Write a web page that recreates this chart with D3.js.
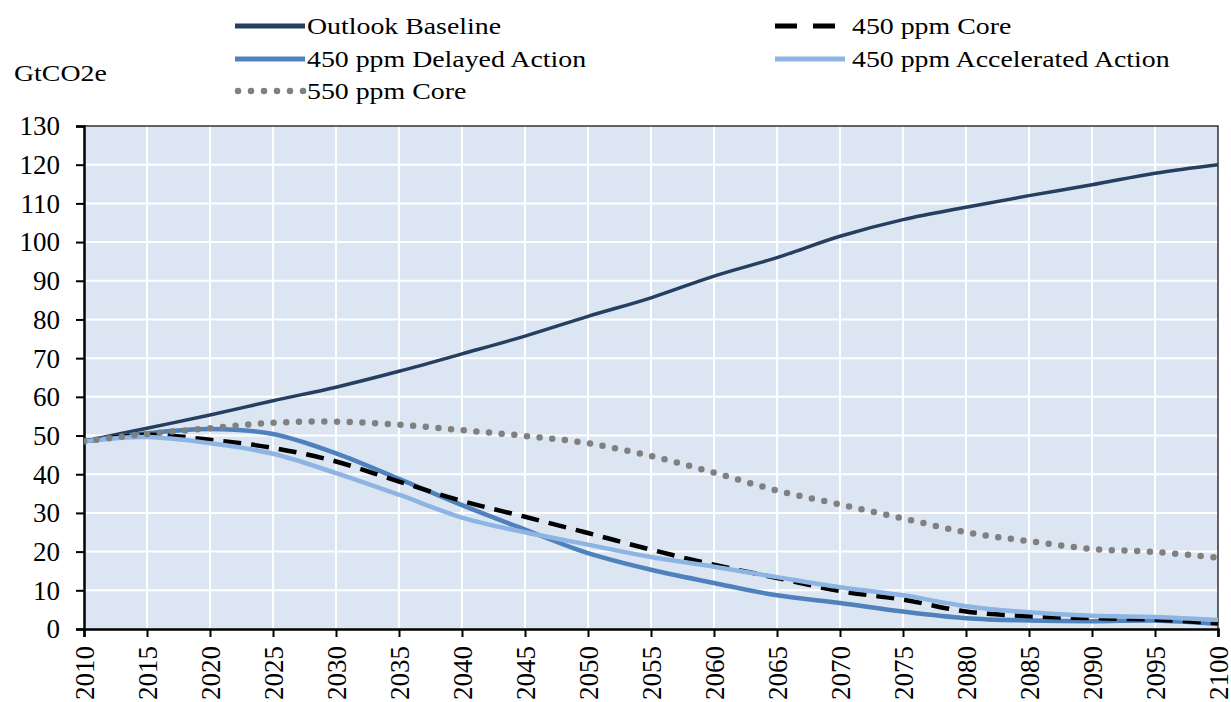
<!DOCTYPE html>
<html>
<head>
<meta charset="utf-8">
<script src="https://cdn.jsdelivr.net/npm/d3@7"></script>
<style>
  body { margin: 0; background: #fff; }
  svg text { font-family: "Liberation Serif", "Times New Roman", serif; fill: #000; }
</style>
</head>
<body>
<svg id="chart" width="1231" height="702"></svg>
<script>
var years = [2010, 2015, 2020, 2025, 2030, 2035, 2040, 2045, 2050, 2055, 2060, 2065, 2070, 2075, 2080, 2085, 2090, 2095, 2100];
var yTicks = [0, 10, 20, 30, 40, 50, 60, 70, 80, 90, 100, 110, 120, 130];

var baseline    = [48.5, 51.9, 55.3, 59.0, 62.5, 66.6, 71.1, 75.7, 80.8, 85.6, 91.2, 96.0, 101.5, 105.8, 109.0, 112.0, 114.8, 117.8, 120.0];
var core450     = [48.5, 50.2, 48.9, 46.8, 43.3, 38.1, 33.1, 29.0, 24.8, 20.5, 16.6, 13.2, 9.8, 7.6, 4.5, 3.3, 2.8, 2.4, 1.5];
var delayed450  = [48.5, 50.6, 51.7, 50.4, 45.4, 38.8, 32.0, 25.7, 19.6, 15.3, 11.9, 8.7, 6.7, 4.5, 2.8, 2.2, 2.0, 2.2, 1.3];
var accel450    = [48.5, 49.6, 48.0, 45.3, 40.3, 34.7, 28.8, 25.0, 21.8, 18.6, 16.1, 13.4, 10.8, 8.7, 5.9, 4.3, 3.4, 3.1, 2.3];
var core550     = [48.5, 50.4, 51.9, 53.3, 53.6, 52.8, 51.4, 49.9, 48.0, 44.7, 40.4, 35.8, 32.2, 28.6, 25.0, 22.7, 20.7, 19.9, 18.4];

var svg = d3.select("#chart");
var plotL = 84, plotR = 1218, plotT = 126, plotB = 629;
var axisFont = "27px";
var legendFont = "24px";
var legendStretch = 1.16;   // legend text in the source is a bit wider than tall

var x = d3.scaleLinear().domain([2010, 2100]).range([plotL, plotR]);
var y = d3.scaleLinear().domain([0, 130]).range([plotB, plotT]);

// plot background
svg.append("rect")
	.attr("x", plotL).attr("y", plotT)
	.attr("width", plotR - plotL).attr("height", plotB - plotT)
	.attr("fill", "#dce6f2");

// gridlines
svg.append("g").selectAll("line")
	.data(years.slice(1, -1))
	.enter().append("line")
	.attr("x1", function (d) { return x(d); }).attr("x2", function (d) { return x(d); })
	.attr("y1", plotT).attr("y2", plotB)
	.attr("stroke", "#fff").attr("stroke-width", 2);

svg.append("g").selectAll("line")
	.data(yTicks.slice(1, -1))
	.enter().append("line")
	.attr("x1", plotL).attr("x2", plotR)
	.attr("y1", function (d) { return y(d); }).attr("y2", function (d) { return y(d); })
	.attr("stroke", "#fff").attr("stroke-width", 2);

// frame top / right
svg.append("path")
	.attr("d", "M" + plotL + "," + plotT + "H" + plotR + "V" + plotB)
	.attr("fill", "none").attr("stroke", "#333").attr("stroke-width", 1.5);

// axes
var yAxis = svg.append("g")
	.attr("transform", "translate(" + plotL + ",0)")
	.call(d3.axisLeft(y).tickValues(yTicks).tickSize(8).tickPadding(16));
var xAxis = svg.append("g")
	.attr("transform", "translate(0," + plotB + ")")
	.call(d3.axisBottom(x).tickValues(years).tickSize(8).tickFormat(d3.format("d")));

[yAxis, xAxis].forEach(function (a) {
	a.attr("font-family", null).attr("font-size", null);
	a.select(".domain").attr("stroke", "#000").attr("stroke-width", 2.5);
	a.selectAll(".tick line").attr("stroke", "#000").attr("stroke-width", 2);
	a.selectAll(".tick text").style("font-size", axisFont).attr("fill", "#000");
});
yAxis.selectAll(".tick text").attr("dy", "0.33em");
xAxis.selectAll(".tick text")
	.attr("transform", "rotate(-90)")
	.attr("text-anchor", "end")
	.attr("x", -17).attr("y", 0).attr("dy", "0.34em");

// lines
var line = d3.line()
	.x(function (d, i) { return x(years[i]); })
	.y(function (d) { return y(d); })
	.curve(d3.curveCatmullRom.alpha(0.5));

var styles = {
	"Outlook Baseline": { data: baseline, color: "#243f60", width: 3.5, dash: null, cap: "butt" },
	"450 ppm Delayed Action": { data: delayed450, color: "#4f81bd", width: 4.5, dash: null, cap: "butt" },
	"450 ppm Core": { data: core450, color: "#000", width: 4.5, dash: "18,10", cap: "butt" },
	"450 ppm Accelerated Action": { data: accel450, color: "#8db4e2", width: 4.5, dash: null, cap: "butt" },
	"550 ppm Core": { data: core550, color: "#808080", width: 6.5, dash: "0,12.7", cap: "round" }
};
var drawOrder = ["Outlook Baseline", "450 ppm Delayed Action", "450 ppm Core", "450 ppm Accelerated Action", "550 ppm Core"];

svg.append("clipPath").attr("id", "plotclip")
	.append("rect").attr("x", plotL).attr("y", plotT - 10).attr("width", plotR - plotL + 1).attr("height", plotB - plotT + 10);

drawOrder.forEach(function (name) {
	var s = styles[name];
	svg.append("path")
		.attr("d", line(s.data))
		.attr("clip-path", "url(#plotclip)")
		.attr("fill", "none")
		.attr("stroke", s.color)
		.attr("stroke-width", s.width)
		.attr("stroke-dasharray", s.dash)
		.attr("stroke-linecap", s.cap);
});

// unit label
svg.append("text")
	.attr("transform", "translate(14,81) scale(" + legendStretch + ",1)")
	.style("font-size", legendFont).text("GtCO2e");

// legend
var legendPos = [
	{ name: "Outlook Baseline", x: 235, y: 26 },
	{ name: "450 ppm Core", x: 775, y: 26 },
	{ name: "450 ppm Delayed Action", x: 235, y: 59 },
	{ name: "450 ppm Accelerated Action", x: 775, y: 59 },
	{ name: "550 ppm Core", x: 235, y: 91 }
];
var legend = svg.append("g").selectAll("g").data(legendPos).enter().append("g")
	.attr("transform", function (d) { return "translate(" + d.x + "," + d.y + ")"; });
legend.append("line")
	.attr("x1", function (d) { return styles[d.name].cap === "round" ? 3 : 0; })
	.attr("x2", function (d) { return styles[d.name].dash && styles[d.name].cap !== "round" ? 60 : 70; })
	.attr("stroke", function (d) { return styles[d.name].color; })
	.attr("stroke-width", function (d) { return styles[d.name].cap === "round" ? 6.5 : 5; })
	.attr("stroke-dasharray", function (d) {
		var s = styles[d.name];
		if (s.cap === "round") return "0,13";
		return s.dash ? "22,16" : null;
	})
	.attr("stroke-linecap", function (d) { return styles[d.name].cap; });
legend.append("text")
	.attr("transform", function (d) {
		return "translate(" + (d.x === 775 ? 77 : 72) + ",0) scale(" + legendStretch + ",1)";
	})
	.attr("dy", "0.33em")
	.style("font-size", legendFont)
	.text(function (d) { return d.name; });
</script>
</body>
</html>
